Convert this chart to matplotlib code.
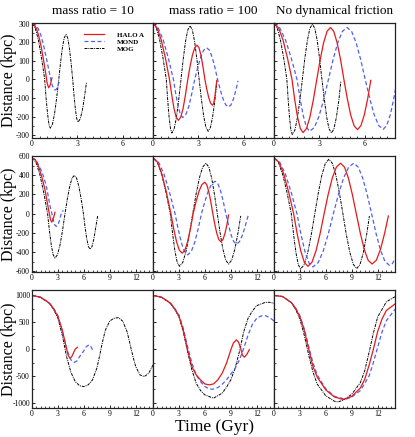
import matplotlib
matplotlib.use("Agg")
import matplotlib.pyplot as plt
from matplotlib.ticker import MultipleLocator, FixedLocator

plt.rcParams['font.family'] = ['Liberation Serif', 'DejaVu Serif']
plt.rcParams['axes.unicode_minus'] = False

# ---------------- data (time in Gyr, distance in kpc) ----------------
col_titles = ["mass ratio = 10", "mass ratio = 100", "No dynamical friction"]
legend_labels = ["HALO A", "MOND", "MOG"]
row_xticks = [[0, 3, 6], [0, 3, 6, 9, 12], [0, 3, 6, 9, 12]]
row_yticks = [[-300, -200, -100, 0, 100, 200, 300],
              [-600, -400, -200, 0, 200, 400, 600],
              [-1000, -500, 0, 500, 1000]]

# Row 1 (apocentre 300 kpc)
r1c1_mog_t = [0, 0.21, 0.42, 0.63, 0.84, 0.93, 1.03, 1.12, 1.21, 1.35, 1.49, 1.63, 1.77, 1.89, 2.01, 2.13, 2.25, 2.36, 2.47, 2.58, 2.69, 2.78, 2.87, 2.96, 3.05, 3.19, 3.34, 3.48, 3.6]
r1c1_mog_d = [300, 277, 212, 115, 0, -100, -185, -242, -262, -242, -185, -100, 0, 92, 170, 223, 241, 223, 170, 92, 0, -88, -162, -212, -229, -212, -162, -88, -17]
r1c1_halo_t = [0, 0.15, 0.3, 0.45, 0.6, 0.75, 0.9, 1.0, 1.1, 1.2, 1.32]
r1c1_halo_d = [300, 294, 272, 232, 178, 110, 35, -20, -45, -32, 8]
r1c1_mond_t = [0, 0.2, 0.4, 0.6, 0.8, 1.0, 1.2, 1.35, 1.5, 1.6, 1.7, 1.83]
r1c1_mond_d = [300, 293, 275, 235, 170, 95, 15, -35, -57, -55, -37, -5]

r1c2_mog_t = [0, 0.22, 0.44, 0.66, 0.88, 0.97, 1.065, 1.16, 1.25, 1.40, 1.55, 1.70, 1.85, 2.0, 2.15, 2.30, 2.45, 2.60, 2.75, 2.90, 3.05, 3.20, 3.35, 3.50, 3.65, 3.80, 3.95, 4.10, 4.22]
r1c2_mog_d = [300, 277, 212, 115, 0, -110, -204, -266, -288, -266, -204, -110, 0, 110, 204, 266, 288, 266, 204, 110, 0, -107, -197, -258, -279, -258, -197, -107, -10]
r1c2_halo_t = [0, 0.27, 0.545, 0.82, 1.09, 1.24, 1.385, 1.53, 1.68, 1.835, 1.99, 2.145, 2.3, 2.45, 2.605, 2.76, 2.91, 3.04, 3.17, 3.30, 3.43, 3.555, 3.685, 3.81, 3.94, 4.01, 4.08, 4.15, 4.22]
r1c2_halo_d = [300, 277, 212, 115, 0, -84, -156, -203, -220, -203, -156, -84, 0, 70, 130, 170, 184, 170, 130, 70, 0, -53, -98, -128, -139, -128, -98, -53, -5]
r1c2_mond_t = [0, 0.34, 0.675, 1.01, 1.35, 1.505, 1.66, 1.815, 1.97, 2.17, 2.37, 2.56, 2.76, 2.96, 3.155, 3.35, 3.55, 3.73, 3.91, 4.09, 4.27, 4.45, 4.63, 4.81, 4.99, 5.155, 5.32, 5.485, 5.62]
r1c2_mond_d = [300, 277, 212, 115, 0, -78, -145, -189, -205, -189, -145, -78, 0, 65, 120, 157, 170, 157, 120, 65, 0, -57, -105, -137, -148, -137, -105, -57, -8]

r1c3_mog_t = [0, 0.21, 0.425, 0.64, 0.85, 0.94, 1.03, 1.12, 1.21, 1.38, 1.54, 1.71, 1.875, 2.04, 2.21, 2.37, 2.54, 2.70, 2.855, 3.01, 3.17, 3.33, 3.485, 3.64, 3.80, 3.96, 4.125, 4.29, 4.42]
r1c3_mog_d = [300, 277, 212, 115, 0, -113, -209, -273, -296, -273, -209, -113, 0, 114, 210, 274, 297, 274, 210, 114, 0, -110, -204, -266, -288, -266, -204, -110, -10]
r1c3_halo_t = [0, 0.30, 0.595, 0.89, 1.19, 1.37, 1.555, 1.74, 1.92, 2.15, 2.375, 2.60, 2.83, 3.055, 3.28, 3.505, 3.73, 3.95, 4.175, 4.40, 4.62, 4.845, 5.07, 5.295, 5.52, 5.745, 5.97, 6.195, 6.40]
r1c3_halo_d = [300, 277, 212, 115, 0, -110, -202, -264, -286, -264, -202, -110, 0, 107, 197, 258, 279, 258, 197, 107, 0, -103, -191, -249, -270, -249, -191, -103, -5]
r1c3_mond_t = [0, 0.38, 0.76, 1.14, 1.52, 1.73, 1.94, 2.15, 2.36, 2.67, 2.98, 3.29, 3.6, 3.91, 4.215, 4.52, 4.83, 5.13, 5.43, 5.73, 6.03, 6.33, 6.625, 6.92, 7.22, 7.45, 7.69, 7.92, 8.15]
r1c3_mond_d = [300, 277, 212, 115, 0, -107, -197, -258, -279, -258, -197, -107, 0, 107, 197, 258, 279, 258, 197, 107, 0, -103, -190, -248, -268, -248, -190, -103, 0]

# Row 2 (apocentre ~580 kpc)
r2c1_mog_t = [0, 0.45, 0.9, 1.35, 1.8, 2.015, 2.23, 2.445, 2.66, 2.95, 3.24, 3.53, 3.82, 4.09, 4.36, 4.63, 4.9, 5.16, 5.425, 5.69, 5.95, 6.14, 6.335, 6.53, 6.72, 6.94, 7.16, 7.38, 7.6]
r2c1_mog_d = [580, 536, 410, 222, 0, -177, -327, -428, -463, -428, -327, -177, 0, 153, 282, 369, 399, 369, 282, 153, 0, -142, -262, -343, -371, -343, -262, -142, -20]
r2c1_halo_t = [0, 0.4, 0.8, 1.2, 1.5, 1.8, 2.0, 2.15, 2.28, 2.42, 2.55, 2.66]
r2c1_halo_d = [580, 560, 480, 360, 250, 100, 0, -65, -89, -65, -25, 14]
r2c1_mond_t = [0, 0.5, 1.12, 1.4, 1.7, 2.08, 2.3, 2.47, 2.65, 2.8, 2.95, 3.15, 3.35, 3.5, 3.65]
r2c1_mond_d = [580, 555, 440, 370, 269, 82, 0, -72, -120, -133, -125, -80, -10, 25, 30]

r2c2_mog_t = [0, 0.5, 1.0, 1.5, 2.0, 2.27, 2.535, 2.80, 3.07, 3.45, 3.835, 4.22, 4.6, 4.98, 5.365, 5.75, 6.13, 6.46, 6.785, 7.11, 7.44, 7.765, 8.09, 8.415, 8.74, 9.105, 9.47, 9.835, 10.15]
r2c2_mog_d = [580, 536, 410, 222, 0, -210, -388, -507, -549, -507, -388, -210, 0, 201, 371, 485, 525, 485, 371, 201, 0, -201, -371, -485, -525, -485, -371, -201, -24]
r2c2_halo_t = [0, 0.52, 1.035, 1.55, 2.07, 2.395, 2.72, 3.045, 3.37, 3.69, 4.01, 4.33, 4.65, 4.98, 5.315, 5.65, 5.98, 6.215, 6.45, 6.685, 6.92, 7.15, 7.385, 7.62, 7.85, 8.09, 8.325, 8.56, 8.74]
r2c2_halo_d = [580, 536, 410, 222, 0, -158, -291, -381, -412, -381, -291, -158, 0, 125, 231, 302, 327, 302, 231, 125, 0, -112, -207, -271, -293, -271, -207, -112, -15]
r2c2_mond_t = [0, 0.64, 1.275, 1.91, 2.55, 2.92, 3.285, 3.65, 4.02, 4.42, 4.815, 5.21, 5.61, 6.01, 6.405, 6.80, 7.2, 7.51, 7.815, 8.12, 8.43, 8.74, 9.045, 9.35, 9.66, 10.005, 10.35, 10.70, 11.0]
r2c2_mond_d = [580, 536, 410, 222, 0, -164, -303, -396, -429, -396, -303, -164, 0, 129, 238, 311, 337, 311, 238, 129, 0, -121, -224, -293, -317, -293, -224, -121, -24]

r2c3_mog_t = [0, 0.5, 1.0, 1.5, 2.0, 2.27, 2.54, 2.81, 3.08, 3.49, 3.90, 4.31, 4.72, 5.13, 5.535, 5.94, 6.35, 6.755, 7.16, 7.565, 7.97, 8.37, 8.775, 9.18, 9.58, 9.96, 10.34, 10.72, 11.04]
r2c3_mog_d = [580, 536, 410, 222, 0, -220, -407, -532, -576, -532, -407, -220, 0, 217, 400, 523, 566, 523, 400, 217, 0, -219, -404, -529, -572, -529, -404, -219, -25]
r2c3_halo_t = [0, 0.57, 1.135, 1.70, 2.27, 2.68, 3.095, 3.51, 3.92, 4.39, 4.86, 5.33, 5.8, 6.27, 6.745, 7.22, 7.69, 8.15, 8.605, 9.06, 9.52, 9.98, 10.435, 10.89, 11.35, 11.84, 12.325, 12.81, 13.23]
r2c3_halo_d = [580, 536, 410, 222, 0, -210, -388, -507, -549, -507, -388, -210, 0, 201, 371, 485, 525, 485, 371, 201, 0, -201, -371, -485, -525, -485, -371, -201, -25]
r2c3_mond_t = [0, 0.66, 1.325, 1.99, 2.65, 3.11, 3.575, 4.04, 4.5, 5.09, 5.685, 6.28, 6.87, 7.46, 8.05, 8.64, 9.23, 9.745, 10.26, 10.775, 11.29, 11.805, 12.32, 12.835, 13.35, 13.7, 14.0]
r2c3_mond_d = [580, 536, 410, 222, 0, -212, -392, -513, -555, -513, -392, -212, 0, 201, 371, 485, 525, 485, 371, 201, 0, -206, -380, -497, -538, -520, -470]

# Row 3 (apocentre 1000 kpc)
r3c1_mog_t = [0, 1, 2, 2.5, 3, 3.5, 4, 4.5, 5, 5.5, 6, 6.5, 7, 7.5, 7.75, 8, 8.25, 8.5, 9, 9.5, 10, 10.5, 11, 11.25, 11.5, 11.75, 12, 12.5, 13, 13.5, 14]
r3c1_mog_d = [1000, 963, 852, 740, 574, 264, -139, -430, -603, -680, -697, -665, -573, -356, -180, 16, 200, 357, 524, 575, 586, 520, 325, 160, -15, -180, -325, -480, -510, -450, -295]
r3c1_halo_t = [0, 1, 2, 2.5, 3, 3.5, 3.8, 4.0, 4.2, 4.4, 4.6, 4.8, 5.0, 5.25]
r3c1_halo_d = [1000, 965, 858, 752, 604, 357, 150, 10, -120, -170, -140, -70, 0, 35]
r3c1_mond_t = [0, 1, 2, 2.5, 3, 3.5, 4, 4.5, 4.9, 5.2, 5.5, 6.0, 6.3, 6.6, 6.8, 7.0]
r3c1_mond_d = [1000, 965, 860, 760, 620, 335, 0, -200, -245, -220, -140, -30, 50, 80, 50, -10]

r3c2_mog_t = [0, 1, 2, 2.5, 3, 3.5, 4, 4.5, 5, 5.5, 6, 7, 8, 8.5, 9, 9.5, 10, 10.5, 11, 11.5, 12, 13, 13.5, 14]
r3c2_mog_d = [1000, 963, 852, 745, 604, 326, -46, -387, -635, -770, -851, -913, -820, -710, -572, -356, -46, 326, 574, 710, 809, 871, 871, 852]
r3c2_halo_t = [0, 1, 2, 2.5, 3, 3.5, 4, 4.5, 5, 5.5, 6, 6.5, 7, 7.5, 8, 8.5, 9, 9.3, 9.65, 9.9, 10.15, 10.35, 10.57, 10.85, 11.15]
r3c2_halo_d = [1000, 965, 858, 752, 617, 357, -15, -325, -480, -572, -647, -665, -647, -572, -449, -263, -15, 115, 172, 130, 10, -110, -150, -100, -10]
r3c2_mond_t = [0, 1, 2, 2.5, 3, 3.5, 4, 4.5, 5, 5.5, 6, 6.5, 6.9, 7.5, 8, 8.5, 9, 9.5, 10, 10.5, 11, 11.5, 12, 12.5, 13, 13.5, 14]
r3c2_mond_d = [1000, 965, 860, 760, 636, 387, 47, -263, -480, -604, -697, -740, -746, -716, -654, -573, -467, -356, -201, 16, 264, 462, 574, 617, 623, 586, 524]

r3c3_mog_t = [0, 1, 2, 2.5, 3, 3.5, 4, 4.5, 5, 6, 7, 7.4, 8, 9, 10, 10.5, 11, 11.5, 12, 13, 14]
r3c3_mog_d = [1000, 978, 867, 740, 560, 260, -100, -420, -650, -870, -970, -982, -950, -840, -620, -400, -60, 300, 600, 880, 975]
r3c3_halo_t = [0, 1, 2, 2.5, 3, 3.5, 4, 4.5, 5, 6, 7, 8, 9, 10, 10.5, 11, 11.5, 12, 12.5, 13, 14]
r3c3_halo_d = [1000, 978, 867, 760, 600, 350, 10, -320, -520, -760, -890, -938, -880, -720, -560, -300, 0, 330, 560, 720, 840]
r3c3_mond_t = [0, 1, 2, 2.5, 3, 3.5, 4, 4.5, 5, 6, 7, 8, 8.4, 9, 10, 11, 11.5, 12, 12.5, 13, 14]
r3c3_mond_d = [1000, 978, 868, 765, 620, 380, 60, -250, -480, -740, -880, -920, -926, -890, -770, -500, -250, 40, 320, 530, 740]

panels = [
    [((r1c1_halo_t, r1c1_halo_d), (r1c1_mond_t, r1c1_mond_d), (r1c1_mog_t, r1c1_mog_d)),
     ((r1c2_halo_t, r1c2_halo_d), (r1c2_mond_t, r1c2_mond_d), (r1c2_mog_t, r1c2_mog_d)),
     ((r1c3_halo_t, r1c3_halo_d), (r1c3_mond_t, r1c3_mond_d), (r1c3_mog_t, r1c3_mog_d))],
    [((r2c1_halo_t, r2c1_halo_d), (r2c1_mond_t, r2c1_mond_d), (r2c1_mog_t, r2c1_mog_d)),
     ((r2c2_halo_t, r2c2_halo_d), (r2c2_mond_t, r2c2_mond_d), (r2c2_mog_t, r2c2_mog_d)),
     ((r2c3_halo_t, r2c3_halo_d), (r2c3_mond_t, r2c3_mond_d), (r2c3_mog_t, r2c3_mog_d))],
    [((r3c1_halo_t, r3c1_halo_d), (r3c1_mond_t, r3c1_mond_d), (r3c1_mog_t, r3c1_mog_d)),
     ((r3c2_halo_t, r3c2_halo_d), (r3c2_mond_t, r3c2_mond_d), (r3c2_mog_t, r3c2_mog_d)),
     ((r3c3_halo_t, r3c3_halo_d), (r3c3_mond_t, r3c3_mond_d), (r3c3_mog_t, r3c3_mog_d))],
]

# ---------------- layout / style ----------------
W, H = 415, 437
fig = plt.figure(figsize=(W / 100, H / 100), dpi=100)
col_left = [32, 153, 274]
col_w = 121
row_top = [23, 156, 290]
row_bot = [138, 272, 408]
row_xlim = [(0, 8), (0, 14), (0, 14)]
row_ylim = [(-315, 303), (-608, 600), (-1095, 1100)]
row_yminor = [50, 100, 250]

styles = [dict(color='#e41a1c', lw=0.9, ls='-'),
          dict(color='#5060f0', lw=0.9, dashes=(3.2, 2.0)),
          dict(color='black', lw=0.7, dashes=(3.0, 1.0, 1.0, 1.0))]
draw_order = [2, 1, 0]

for r in range(3):
    for c in range(3):
        ax = fig.add_axes([col_left[c] / W, 1 - row_bot[r] / H,
                           col_w / W, (row_bot[r] - row_top[r]) / H])
        for k in draw_order:
            t, d = panels[r][c][k]
            ax.plot(t, d, label=legend_labels[k], **styles[k])
        ax.set_xlim(*row_xlim[r])
        ax.set_ylim(*row_ylim[r])
        ax.xaxis.set_major_locator(FixedLocator(row_xticks[r]))
        ax.yaxis.set_major_locator(FixedLocator(row_yticks[r]))
        ax.xaxis.set_minor_locator(MultipleLocator(0.5))
        ax.yaxis.set_minor_locator(MultipleLocator(row_yminor[r]))
        ax.tick_params(which='major', direction='in', length=2.5, width=0.6,
                       labelsize=5.5, pad=1.5)
        ax.tick_params(which='minor', direction='in', length=1.3, width=0.5)
        if c > 0:
            ax.tick_params(axis='y', labelleft=False)
        for s in ax.spines.values():
            s.set_linewidth(0.9)
            s.set_color('#222222')
        if r == 0 and c == 0:
            hs, ls_ = ax.get_legend_handles_labels()
            order = [2, 1, 0]
            ax.legend([hs[i] for i in order], [ls_[i] for i in order],
                      loc='upper left', bbox_to_anchor=(0.40, 0.955),
                      frameon=False, borderpad=0, handlelength=2.9,
                      handletextpad=1.9, labelspacing=0.18,
                      prop={'weight': 'bold', 'size': 5})

for c in range(3):
    fig.text((col_left[c] + col_w / 2) / W, 1 - 11 / H, col_titles[c],
             ha='center', va='center', fontsize=9.5)
for r in range(3):
    fig.text(9 / W, 1 - (row_top[r] + row_bot[r]) / 2 / H, "Distance (kpc)",
             rotation=90, ha='center', va='center', fontsize=11.5)
fig.text(214 / W, 1 - 427 / H, "Time (Gyr)", ha='center', va='center', fontsize=12.5)

fig.savefig("out.png", dpi=100)
